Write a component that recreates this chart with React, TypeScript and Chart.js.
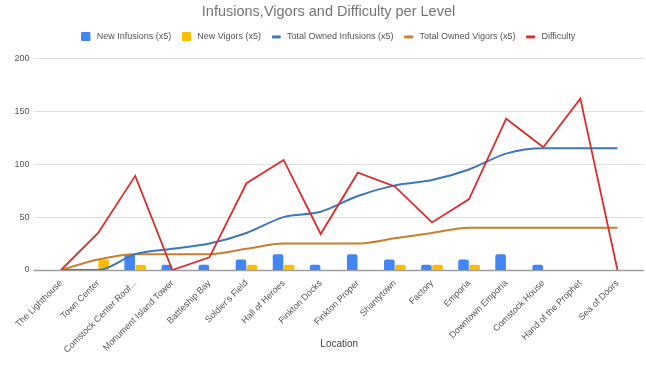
import React, { useEffect, useRef } from "react";
import { Chart, registerables } from "chart.js";

Chart.register(...registerables);

const locations = [
  "The Lighthouse",
  "Town Center",
  "Comstock Center Roof...",
  "Monument Island Tower",
  "Battleship Bay",
  "Soldier's Field",
  "Hall of Heroes",
  "Finkton Docks",
  "Finkton Proper",
  "Shantytown",
  "Factory",
  "Emporia",
  "Downtown Emporia",
  "Comstock House",
  "Hand of the Prophet",
  "Sea of Doors",
];

const newInfusions = [0, 0, 15, 5, 5, 10, 15, 5, 15, 10, 5, 10, 15, 5, 0, 0];
const newVigors = [0, 10, 5, 0, 0, 5, 5, 0, 0, 5, 5, 5, 0, 0, 0, 0];
const totalInfusions = [0, 0, 15, 20, 25, 35, 50, 55, 70, 80, 85, 95, 110, 115, 115, 115];
const totalVigors = [0, 10, 15, 15, 15, 20, 25, 25, 25, 30, 35, 40, 40, 40, 40, 40];
const difficulty = [0, 35, 89, 0, 12, 82, 104, 34, 92, 79, 45, 67, 143, 116, 162, 0];

const yTicks = [0, 50, 100, 150, 200];

const FONT = "'Liberation Sans', Arial, sans-serif";

const gridPlugin = {
  id: "fullGrid",
  beforeDatasetsDraw(chart: any) {
    const { ctx, chartArea, scales } = chart;
    const y = scales.y;
    ctx.save();
    yTicks.forEach((v) => {
      const py = Math.round(y.getPixelForValue(v)) + 0.5;
      ctx.beginPath();
      ctx.strokeStyle = v === 0 ? "#9e9e9e" : "#e0e0e0";
      ctx.lineWidth = v === 0 ? 1.5 : 1;
      ctx.moveTo(chartArea.left - 9, py);
      ctx.lineTo(chartArea.right + 8, py);
      ctx.stroke();
    });
    ctx.restore();
  },
};

const legendGap = {
  id: "legendGap",
  beforeInit(chart: any) {
    if (!chart.legend) return;
    const orig = chart.legend.fit;
    chart.legend.fit = function () {
      orig.bind(chart.legend)();
      this.height += 7;
    };
  },
  afterLayout(chart: any) {
    const shift = 10.5;
    [chart.legend, chart.titleBlock].forEach((b: any) => {
      if (b) {
        b.left += shift;
        b.right += shift;
      }
    });
  },
};

function makeMarker(color: string, kind: "rect" | "line") {
  const c = document.createElement("canvas");
  c.width = 11;
  c.height = 9;
  const g = c.getContext("2d")!;
  g.fillStyle = color;
  g.beginPath();
  const hasRR = typeof (g as any).roundRect === "function";
  if (kind === "rect") {
    hasRR ? (g as any).roundRect(0, 0, 9, 9, 1) : g.rect(0, 0, 9, 9);
  } else {
    hasRR ? (g as any).roundRect(0, 3, 9, 3, 1) : g.rect(0, 3, 9, 3);
  }
  g.fill();
  return c;
}

export default function App() {
  const ref = useRef<HTMLCanvasElement | null>(null);

  useEffect(() => {
    document.body.style.margin = "0";
    const canvas = ref.current;
    if (!canvas) return;
    const markers = [
      makeMarker("#4285f4", "rect"),
      makeMarker("#fbbc04", "rect"),
      makeMarker("#3d78b8", "line"),
      makeMarker("#c8802f", "line"),
      makeMarker("#db2d2d", "line"),
    ];
    const chart = new Chart(canvas, {
      type: "bar",
      data: {
        labels: locations,
        datasets: [
          {
            type: "bar",
            label: "New Infusions (x5)",
            data: newInfusions,
            backgroundColor: "#4285f4",
            borderRadius: 2,
            categoryPercentage: 0.6,
            barPercentage: 0.95,
            order: 2,
          } as any,
          {
            type: "bar",
            label: "New Vigors (x5)",
            data: newVigors,
            backgroundColor: "#fbbc04",
            borderRadius: 2,
            categoryPercentage: 0.6,
            barPercentage: 0.95,
            order: 3,
          } as any,
          {
            type: "line",
            label: "Total Owned Infusions (x5)",
            data: totalInfusions,
            borderColor: "#3d78b8",
            backgroundColor: "#3d78b8",
            borderWidth: 2,
            pointRadius: 0,
            cubicInterpolationMode: "monotone",
            order: 1,
          } as any,
          {
            type: "line",
            label: "Total Owned Vigors (x5)",
            data: totalVigors,
            borderColor: "#c8802f",
            backgroundColor: "#c8802f",
            borderWidth: 2,
            pointRadius: 0,
            cubicInterpolationMode: "monotone",
            order: 1,
          } as any,
          {
            type: "line",
            label: "Difficulty",
            data: difficulty,
            borderColor: "#db2d2d",
            backgroundColor: "#db2d2d",
            borderWidth: 1.8,
            pointRadius: 0,
            tension: 0,
            order: 0,
          } as any,
        ],
      },
      options: {
        animation: false,
        responsive: false,
        maintainAspectRatio: false,
        layout: { padding: { left: 0, right: 10, top: 0, bottom: 24 } },
        plugins: {
          title: {
            display: true,
            text: "Infusions,Vigors and Difficulty per Level",
            color: "#757575",
            font: { family: FONT, size: 14.5, weight: "normal" },
            padding: { top: 3, bottom: 1 },
          },
          legend: {
            display: true,
            position: "top",
            labels: {
              usePointStyle: true,
              pointStyleWidth: 10.5,
              boxHeight: 9,
              color: "#555555",
              font: { family: FONT, size: 9 },
              padding: 11,
              sort: (a: any, b: any) => a.datasetIndex - b.datasetIndex,
              generateLabels: (ch: any) => {
                const items = (Chart.defaults.plugins.legend.labels as any).generateLabels(ch);
                return items.map((it: any) => ({ ...it, pointStyle: markers[it.datasetIndex] }));
              },
            },
          },
          tooltip: { enabled: false },
        },
        scales: {
          x: {
            grid: { display: false, drawTicks: false },
            border: { display: false },
            ticks: {
              color: "#555555",
              font: { family: FONT, size: 9 },
              maxRotation: 45,
              minRotation: 45,
              autoSkip: false,
              padding: 8,
            },
            title: {
              display: true,
              text: "Location",
              color: "#444444",
              font: { family: FONT, size: 10 },
              padding: { top: 4, bottom: 2 },
            },
            afterFit: (s: any) => {
              s.height = 82;
            },
          },
          y: {
            min: 0,
            max: 200,
            grid: { display: false, drawTicks: false },
            border: { display: false },
            ticks: {
              stepSize: 50,
              color: "#555555",
              font: { family: FONT, size: 9 },
              padding: 13,
            },
            afterFit: (s: any) => {
              s.width = 42.5;
            },
          },
        },
      },
      plugins: [gridPlugin, legendGap],
    });
    return () => chart.destroy();
  }, []);

  return (
    <div style={{ width: 646, height: 376, background: "#fff" }}>
      <canvas ref={ref} width={646} height={376} style={{ display: "block" }} />
    </div>
  );
}
